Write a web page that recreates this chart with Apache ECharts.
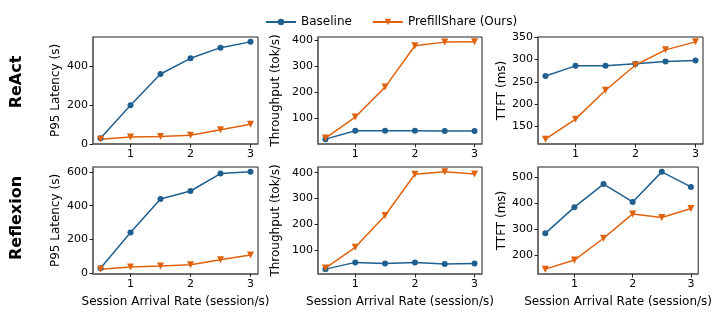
<!DOCTYPE html>
<html><head><meta charset="utf-8">
<script src="https://cdn.jsdelivr.net/npm/echarts@6/dist/echarts.min.js"></script>
<style>html,body{margin:0;padding:0;background:#fff}#c{width:714px;height:318px}</style>
</head><body><div id="c"></div>
<script>
const xs = [0.5, 1, 1.5, 2, 2.5, 3];
const xTicks = [1, 2, 3];
const seriesNames = ['Baseline', 'PrefillShare (Ours)'];
const rowLabels = ['ReAct', 'Reflexion'];
const yNames = ['P95 Latency (s)', 'Throughput (tok/s)', 'TTFT (ms)'];
const xName = 'Session Arrival Rate (session/s)';

const reactLatBase = [30, 200, 362, 443, 498, 528];
const reactLatOurs = [25, 36, 39, 45, 73, 102];
const reactThrBase = [18, 50, 50, 50, 49, 49];
const reactThrOurs = [22, 103, 218, 377, 391, 392];
const reactTtftBase = [263, 286, 286, 291, 296, 298];
const reactTtftOurs = [121, 166, 231, 288, 322, 340];
const reflLatBase = [30, 241, 440, 487, 590, 600];
const reflLatOurs = [25, 37, 43, 51, 81, 109];
const reflThrBase = [28, 54, 50, 54, 48, 50];
const reflThrOurs = [32, 112, 235, 394, 403, 395];
const reflTtftBase = [283, 384, 473, 404, 520, 462];
const reflTtftOurs = [145, 180, 264, 358, 344, 379];

const yTicks = [
  [0, 200, 400], [100, 200, 300, 400], [150, 200, 250, 300, 350],
  [0, 200, 400, 600], [100, 200, 300, 400], [200, 300, 400, 500]
];
const panels = [
  [reactLatBase, reactLatOurs], [reactThrBase, reactThrOurs], [reactTtftBase, reactTtftOurs],
  [reflLatBase, reflLatOurs], [reflThrBase, reflThrOurs], [reflTtftBase, reflTtftOurs]
];

const BLUE = '#1f5f8f', ORANGE = '#e0620d';
const FONT = 'DejaVu Sans';
const lefts = [93, 318, 538], widths = [165, 164, 165];
const tops = [37, 167], height = 107;
const nameGaps = [31, 36, 30];

function range(vals) {
  const lo = Math.min(...vals), hi = Math.max(...vals);
  const m = 0.05 * (hi - lo);
  return [lo - m, hi + m];
}
const xr = range(xs);

const grid = [], xAxis = [], yAxis = [], series = [];
panels.forEach((p, i) => {
  const r = Math.floor(i / 3), c = i % 3;
  grid.push({left: lefts[c], top: tops[r], width: widths[c], height: height,
    show: true, borderColor: '#222', borderWidth: 1, containLabel: false});
  xAxis.push({type: 'value', gridIndex: i, min: xr[0], max: xr[1],
    splitLine: {show: false},
    axisLine: {show: true, lineStyle: {color: '#666', width: 1.5}},
    axisTick: {show: true, customValues: xTicks, length: 3.5, lineStyle: {color: '#222'}},
    axisLabel: {customValues: xTicks, color: '#000', fontSize: 11, fontFamily: FONT, margin: 5},
    name: r === 1 ? xName : '', nameLocation: 'middle', nameGap: 22,
    nameTextStyle: {color: '#000', fontSize: 12, fontFamily: FONT}});
  const yr = range(p[0].concat(p[1]));
  yAxis.push({type: 'value', gridIndex: i, min: yr[0], max: yr[1],
    splitLine: {show: false},
    axisLine: {show: true, lineStyle: {color: '#666', width: 1.5}},
    axisTick: {show: true, customValues: yTicks[i], length: 3.5, lineStyle: {color: '#222'}},
    axisLabel: {customValues: yTicks[i], color: '#000', fontSize: 11, fontFamily: FONT, margin: 5},
    name: yNames[c], nameLocation: 'middle', nameGap: nameGaps[c],
    nameTextStyle: {color: '#000', fontSize: 12, fontFamily: FONT}});
  series.push({name: seriesNames[0], type: 'line', xAxisIndex: i, yAxisIndex: i,
    data: xs.map((x, k) => [x, p[0][k]]), symbol: 'circle', symbolSize: 6,
    itemStyle: {color: BLUE}, lineStyle: {color: BLUE, width: 1.5}, animation: false});
  series.push({name: seriesNames[1], type: 'line', xAxisIndex: i, yAxisIndex: i,
    data: xs.map((x, k) => [x, p[1][k]]), symbol: 'triangle', symbolRotate: 180, symbolSize: 7,
    itemStyle: {color: ORANGE}, lineStyle: {color: ORANGE, width: 1.5}, animation: false});
});

const chart = echarts.init(document.getElementById('c'), null, {renderer: 'canvas'});
chart.setOption({
  animation: false,
  backgroundColor: '#fff',
  grid, xAxis, yAxis, series,
  legend: {data: seriesNames, left: 260, top: 11, itemWidth: 30, itemHeight: 8, itemGap: 20,
    textStyle: {color: '#000', fontSize: 12, fontFamily: FONT}},
  graphic: [
    {type: 'text', x: 17, y: 82, rotation: Math.PI / 2,
      style: {text: rowLabels[0], font: 'bold 16px "DejaVu Sans"', fill: '#000', align: 'center', verticalAlign: 'middle'}},
    {type: 'text', x: 17, y: 218, rotation: Math.PI / 2,
      style: {text: rowLabels[1], font: 'bold 16px "DejaVu Sans"', fill: '#000', align: 'center', verticalAlign: 'middle'}}
  ]
});
</script></body></html>
